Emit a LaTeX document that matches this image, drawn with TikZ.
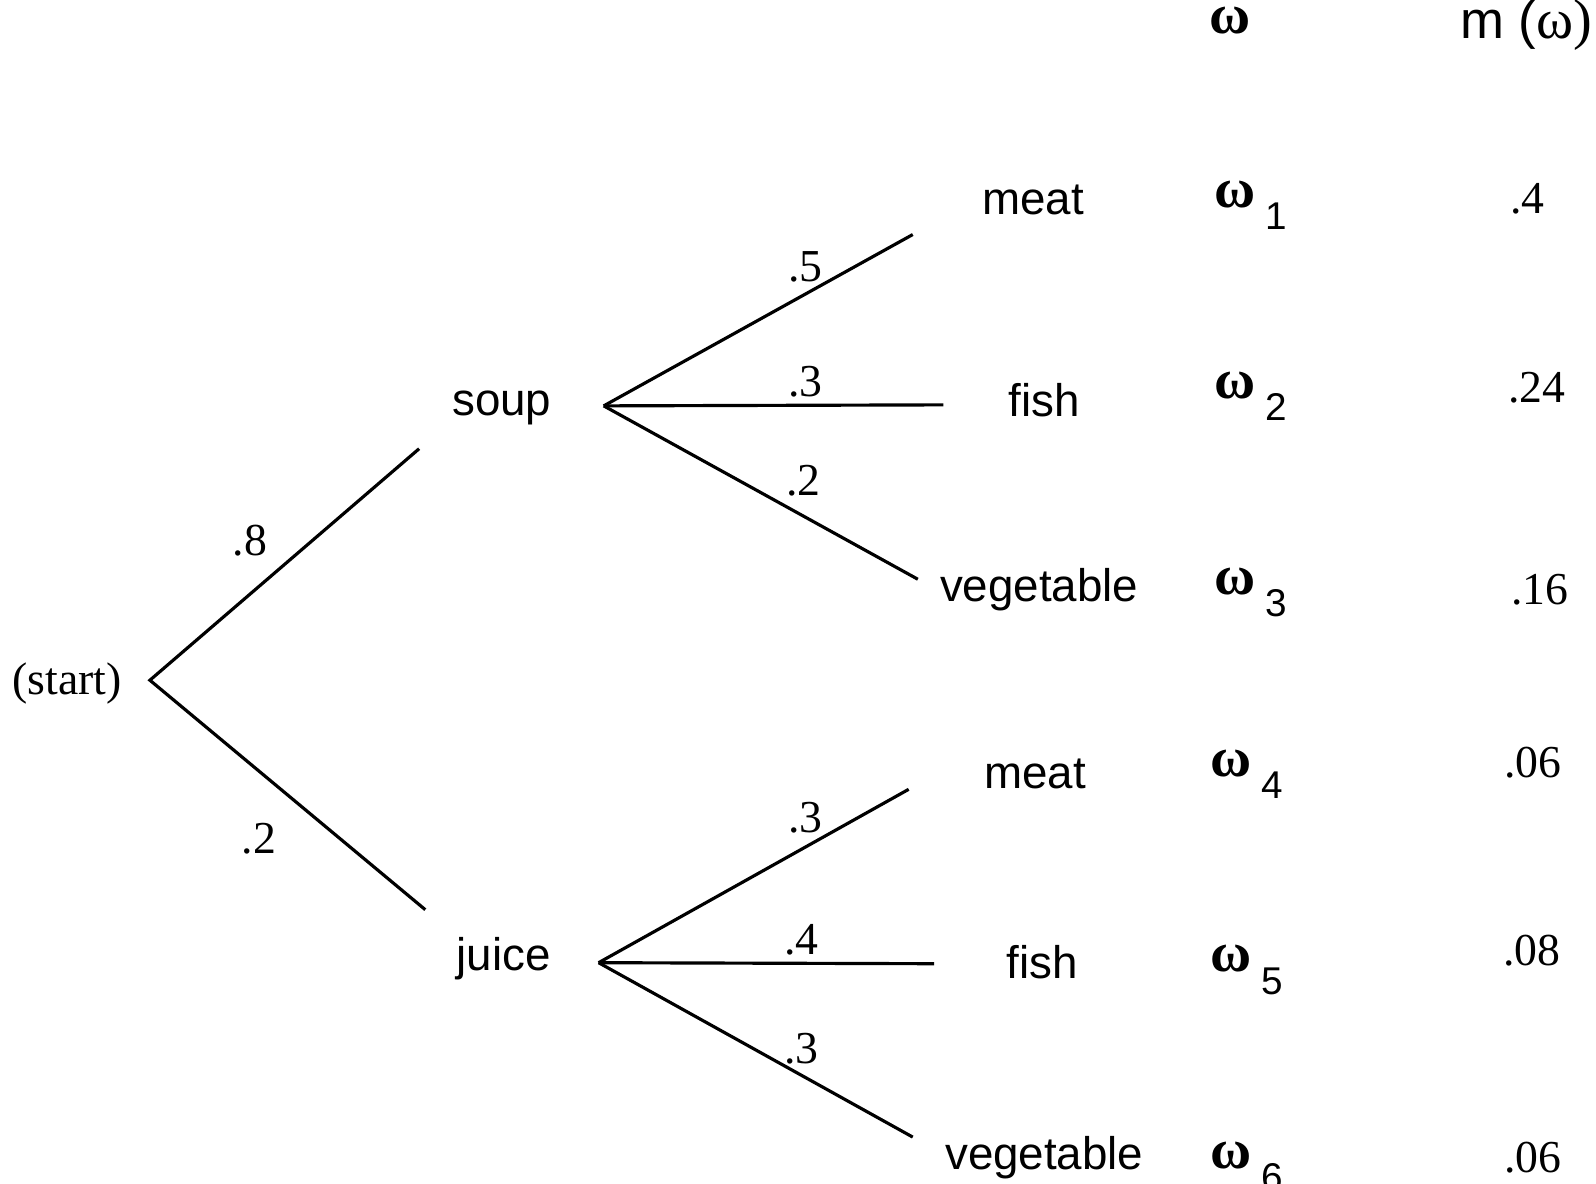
\documentclass[tikz,border=0pt]{standalone}
\usepackage{fontspec}
\setmainfont{Liberation Serif}
\setsansfont{Liberation Sans}
\usepackage{tikz}
\usetikzlibrary{calc}

\newcommand{\om}[1]{\rmfamily\fontsize{16}{18}\selectfont\textbf{ω}\hspace{3pt}\sffamily\fontsize{11}{13}\selectfont\raisebox{-6.3pt}{#1}}

\begin{document}
\begin{tikzpicture}[x=0.0102cm, y=-0.0102cm,
    item/.style={font=\sffamily\fontsize{13}{15}\selectfont, inner sep=0pt},
    prob/.style={font=\rmfamily\fontsize{13}{15}\selectfont, inner sep=0pt},
    outcome/.style={inner sep=0pt, anchor=base west},
    branch/.style={line width=0.9pt}]
      \useasboundingbox (0,0) rectangle (1565,1161);
      % first stage
      \node[prob] (S) at (66,670) {(start)};
      \node[item] (soup) at (492,400) {soup};
      \node[item] (juice) at (494,940) {juice};
      \coordinate (s0) at (147,667);
      \coordinate (s1) at (411,440);
      \coordinate (s2) at (417,892);
      \draw[branch] (s1) -- (s0) -- (s2);
      \node[prob] at (245,530) {.8};
      \node[prob] at (254,822) {.2};
      % second stage after soup
      \coordinate (a0) at (592,398);
      \coordinate (a1) at (895,230);
      \coordinate (a2) at (925,397);
      \coordinate (a3) at (900,568);
      \draw[branch] (a0) -- (a1);
      \draw[branch] (a0) -- (a2);
      \draw[branch] (a0) -- (a3);
      \node[prob] at (790,262) {.5};
      \node[prob] at (790,374) {.3};
      \node[prob] at (788,471) {.2};
      % second stage after juice
      \coordinate (b0) at (587,944);
      \coordinate (b1) at (891,774);
      \coordinate (b2) at (916,945);
      \coordinate (b3) at (895,1115);
      \draw[branch] (b0) -- (b1);
      \draw[branch] (b0) -- (b2);
      \draw[branch] (b0) -- (b3);
      \node[prob] at (790,802) {.3};
      \node[prob] at (786,922) {.4};
      \node[prob] at (786,1028) {.3};
      % outcomes
      \node[item] (m1) at (1013,196) {meat};
      \node[item] (f1) at (1024,392) {fish};
      \node[item] (v1) at (1019,578) {vegetable};
      \node[item] (m2) at (1015,759) {meat};
      \node[item] (f2) at (1022,943) {fish};
      \node[item] (v2) at (1024,1135) {vegetable};
      % columns
      \node[inner sep=0pt, anchor=base, font=\rmfamily\fontsize{16}{18}\selectfont] (w) at (1206,33) {\textbf{ω}};
      \node[inner sep=0pt, anchor=base east, font=\sffamily\fontsize{15}{17}\selectfont] (mw) at (1562,38) {m (\rmfamily\fontsize{16}{18}\selectfont ω)};
      \node[outcome] (w1) at (1190,203) {\om{1}};
      \node[outcome] (w2) at (1190,391) {\om{2}};
      \node[outcome] (w3) at (1190,583) {\om{3}};
      \node[outcome] (w4) at (1186,761) {\om{4}};
      \node[outcome] (w5) at (1186,953) {\om{5}};
      \node[outcome] (w6) at (1186,1146) {\om{6}};
      \node[prob] (p1) at (1498,195) {.4};
      \node[prob] (p2) at (1507,380) {.24};
      \node[prob] (p3) at (1510,578) {.16};
      \node[prob] (p4) at (1503,748) {.06};
      \node[prob] (p5) at (1502,932) {.08};
      \node[prob] (p6) at (1503,1135) {.06};
\end{tikzpicture}
\end{document}
